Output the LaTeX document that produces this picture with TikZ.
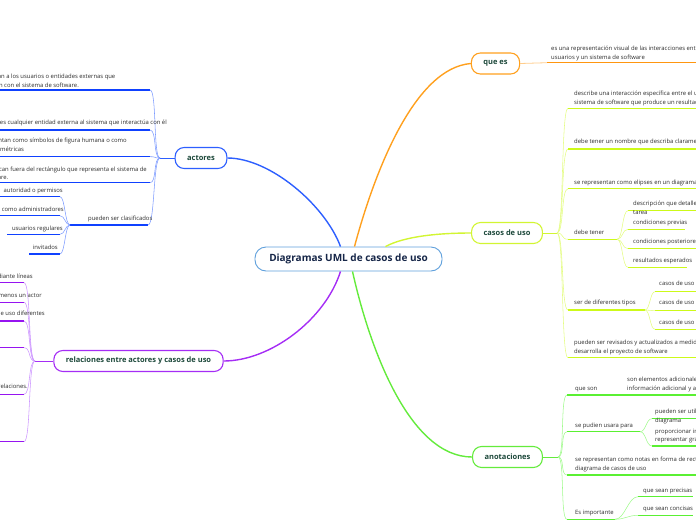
\documentclass[tikz,border=0pt]{standalone}
\usepackage{fontspec}
\setmainfont{Open Sans}
\definecolor{hubblue}{RGB}{95,160,220}
\definecolor{hubtext}{RGB}{22,38,72}
\definecolor{topictext}{RGB}{28,72,58}
\definecolor{leaftext}{RGB}{45,45,45}
\definecolor{actnode}{RGB}{45,95,255}
\definecolor{actline}{RGB}{15,65,255}
\definecolor{actthin}{RGB}{125,155,255}
\definecolor{quenode}{RGB}{255,160,30}
\definecolor{queline}{RGB}{255,150,15}
\definecolor{quethin}{RGB}{255,205,140}
\definecolor{casnode}{RGB}{210,245,50}
\definecolor{casline}{RGB}{205,250,25}
\definecolor{casthin}{RGB}{228,252,130}
\definecolor{anonode}{RGB}{100,235,60}
\definecolor{anoline}{RGB}{90,240,50}
\definecolor{anothin}{RGB}{160,250,140}
\definecolor{relnode}{RGB}{165,45,245}
\definecolor{relline}{RGB}{150,20,240}
\definecolor{relthin}{RGB}{205,150,255}

\begin{document}
\begin{tikzpicture}[x=1pt,y=-1pt,
  hub/.style={draw=hubblue, line width=0.9pt, fill=white, rounded corners=11pt,
    minimum width=187pt, minimum height=24pt, text=hubtext,
    font=\fontsize{10}{12}\selectfont\bfseries},
  topic/.style={draw=#1, line width=1.1pt, fill=white, rounded corners=9pt,
    minimum height=21pt, inner xsep=12pt, text=topictext,
    font=\fontsize{7.5}{9}\selectfont\bfseries},
  leaf/.style={inner sep=0pt, align=left, text=leaftext,
    font=\fontsize{5.9}{8.7}\selectfont},
  uline/.style={draw=#1, line width=1.3pt},
  twig/.style={draw=#1, line width=0.55pt},
  limb/.style={draw=#1, line width=1.4pt}]
\useasboundingbox (0,0) rectangle (696,520);
\clip (0,0) rectangle (696,520);

% hub and main topics
\node[hub] (uml) at (348.5,259) {Diagramas UML de casos de uso};
\node[topic=actnode] (actores) at (201,158) {actores};
\node[topic=quenode] (quees) at (495.5,63.5) {que es};
\node[topic=casnode] (casos) at (507,233) {casos de uso};
\node[topic=relnode] (relac) at (138.5,361) {relaciones entre actores y casos de uso};
\node[topic=anonode] (anot) at (507.5,457) {anotaciones};

\draw[limb=actnode] ([xshift=-8pt]uml.north) .. controls (325,205) and (270,158) .. (actores.east);
\draw[limb=quenode] ([xshift=6pt]uml.north) .. controls (375,170) and (415,68) .. (quees.west);
\draw[limb=casnode] ([xshift=37pt]uml.north) .. controls (405,236) and (440,233) .. (casos.west);
\draw[limb=relnode] ([xshift=-8pt]uml.south) .. controls (325,320) and (270,361) .. (relac.east);
\draw[limb=anonode] ([xshift=4pt]uml.south) .. controls (370,350) and (410,457) .. (anot.west);

% que es
\coordinate (q1) at (547,62.7);
\draw[twig=quethin, line width=0.8pt] (quees.east) -- (q1);
\draw[uline=queline] (q1) -- (700,62.7);
\node[leaf, anchor=south west] (q1t) at (551,60.8) {es una representación visual de las interacciones entre los\\usuarios y un sistema de software};

% casos de uso
\coordinate (casT) at (557,233);
\draw[limb=casnode, line width=1pt] (casos.east) -- (casT);
\foreach \n/\y/\xe in {c1/108.3/700, c2/149/700, c3/188.7/700, c4/239.3/617, c5/310/645, c6/357.8/700}{
  \coordinate (\n) at (568,\y);
  \draw[uline=casline] (\n) -- (\xe,\y);
  \draw[twig=casthin] (casT) .. controls +(7,0) and +(-7,0) .. (\n);
}
\node[leaf, anchor=south west] (c1t) at (574,105.8) {describe una interacción específica entre el usuario y el\\sistema de software que produce un resultado};
\node[leaf, anchor=base west] (c2t) at (574,143.1) {debe tener un nombre que describa claramente};
\node[leaf, anchor=base west] (c3t) at (574,184.1) {se representan como elipses en un diagrama};
\node[leaf, anchor=base west] (c4t) at (574,234.1) {debe tener};
\node[leaf, anchor=base west] (c5t) at (574,304.7) {ser de diferentes tipos};
\node[leaf, anchor=south west] (c6t) at (574,355.2) {pueden ser revisados y actualizados a medida que se\\desarrolla el proyecto de software};

% debe tener
\coordinate (c4T) at (617,239.3);
\foreach \n/\y/\xe in {d1/210.7/700, d2/229.3/685, d3/248.7/700, d4/267.3/687}{
  \coordinate (\n) at (628,\y);
  \draw[uline=casline] (\n) -- (\xe,\y);
  \draw[twig=casthin] (c4T) .. controls +(6,0) and +(-6,0) .. (\n);
}
\node[leaf, anchor=south west] (d1t) at (633,214.8) {descripción que detalle la\\tarea};
\node[leaf, anchor=base west] (d2t) at (633,224.1) {condiciones previas};
\node[leaf, anchor=base west] (d3t) at (633,243.7) {condiciones posteriores};
\node[leaf, anchor=base west] (d4t) at (633,262.1) {resultados esperados};

% diferentes tipos
\coordinate (c5T) at (645,310);
\foreach \y/\yt [count=\i] in {291.7/285.7, 310.7/304.7, 329.3/324.1}{
  \coordinate (t\i) at (655,\y);
  \draw[uline=casline] (t\i) -- (700,\y);
  \draw[twig=casthin] (c5T) .. controls +(5,0) and +(-5,0) .. (t\i);
  \node[leaf, anchor=base west] (tipo\i) at (659,\yt) {casos de uso};
}

% anotaciones
\coordinate (anoT) at (558,457);
\draw[limb=anonode, line width=1pt] (anot.east) -- (anoT);
\foreach \n/\y/\xe in {a1/395/622, a2/431.7/640, a3/475/700, a4/519.3/615}{
  \coordinate (\n) at (567,\y);
  \draw[uline=anoline] (\n) -- (\xe,\y);
  \draw[twig=anothin] (anoT) .. controls +(7,0) and +(-7,0) .. (\n);
}
\node[leaf, anchor=base west] (a1t) at (575,390.4) {que son};
\node[leaf, anchor=base west] (a2t) at (575,427.1) {se pudien usara para};
\node[leaf, anchor=south west] (a3t) at (575,471.8) {se representan como notas en forma de rectángulos en el\\diagrama de casos de uso};
\node[leaf, anchor=base west] (a4t) at (575,514.1) {Es importante};

\coordinate (a1T) at (622,395);
\draw[uline=anoline] (a1T) -- (700,395);
\node[leaf, anchor=south west] (a11t) at (627,392.1) {son elementos adicionales que\\información adicional y aclaraciones};

\coordinate (a2T) at (640,431.7);
\foreach \n/\y in {b1/418.7, b2/446}{
  \coordinate (\n) at (652,\y);
  \draw[uline=anoline] (\n) -- (700,\y);
  \draw[twig=anothin] (a2T) .. controls +(6,0) and +(-6,0) .. (\n);
}
\node[leaf, anchor=south west] (b1t) at (655,424.1) {pueden ser utilizadas\\diagrama};
\node[leaf, anchor=south west] (b2t) at (655,443.5) {proporcionar información\\representar gráficamente};

\coordinate (a4T) at (615,519.3);
\foreach \n/\y in {e1/496.7, e2/515.3}{
  \coordinate (\n) at (638,\y);
  \draw[uline=anoline] (\n) -- (693,\y);
  \draw[twig=anothin] (a4T) .. controls +(10,0) and +(-10,0) .. (\n);
}
\node[leaf, anchor=base west] (e1t) at (643,492.1) {que sean precisas};
\node[leaf, anchor=base west] (e2t) at (643,510.7) {que sean concisas};

% actores
\coordinate (actT) at (160,158);
\draw[limb=actnode, line width=1pt] (actores.west) -- (actT);
\foreach \n/\y/\xs/\xe in {l1/90/-5/150, l2/130/-5/150, l3/156.7/-5/150, l4/182.7/-5/150, l5/225/70/148}{
  \coordinate (\n) at (\xe,\y);
  \draw[uline=actline] (\xs,\y) -- (\n);
  \draw[twig=actthin] (actT) .. controls +(-7,0) and +(7,0) .. (\n);
}
\node[leaf, anchor=south east] (l1t) at (115.5,87.8) {representan a los usuarios o entidades externas que\\interactúan con el sistema de software.};
\node[leaf, anchor=base east] (l2t) at (167,124.7) {es cualquier entidad externa al sistema que interactúa con él};
\node[leaf, anchor=south east] (l3t) at (127,152.8) {se representan como símbolos de figura humana o como\\figuras geométricas};
\node[leaf, anchor=south east] (l4t) at (147,180.1) {se ubican fuera del rectángulo que representa el sistema de\\software.};
\node[leaf, anchor=base west] (l5t) at (88,220.4) {pueden ser clasificados};

\coordinate (l5T) at (70,225);
\foreach \n/\y/\xs in {k1/196.7/-5, k2/215.7/-5, k3/234.3/7, k4/254/29}{
  \coordinate (\n) at (60,\y);
  \draw[uline=actline] (\xs,\y) -- (\n);
  \draw[twig=actthin] (l5T) .. controls +(-5,0) and +(5,0) .. (\n);
}
\node[leaf, anchor=base east] (k1t) at (63,192.1) {autoridad o permisos};
\node[leaf, anchor=base east] (k2t) at (64,211.4) {como administradores};
\node[leaf, anchor=base east] (k3t) at (63,230.4) {usuarios regulares};
\node[leaf, anchor=base east] (k4t) at (58,249.1) {invitados};

% relaciones entre actores y casos de uso
\coordinate (relT) at (35,361);
\draw[limb=relnode, line width=1pt] (relac.west) -- (relT);
\foreach \n/\y in {r1/282.7, r2/302.3, r3/321, r4/347.7, r5/394.3, r6/441.7}{
  \coordinate (\n) at (24,\y);
  \draw[uline=relline] (-5,\y) -- (\n);
  \draw[twig=relthin] (relT) .. controls +(-7,0) and +(7,0) .. (\n);
}
\node[leaf, anchor=base east] (r1t) at (33,278.1) {mediante líneas};
\node[leaf, anchor=base east] (r2t) at (42,297.1) {al menos un actor};
\node[leaf, anchor=base east] (r3t) at (45,315.7) {casos de uso diferentes};
\node[leaf, anchor=base east] (r5t) at (28,388.7) {relaciones.};
\end{tikzpicture}
\end{document}
